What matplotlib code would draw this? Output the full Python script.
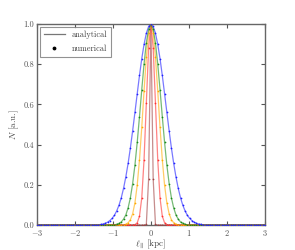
import numpy as np
import matplotlib
matplotlib.use('agg')
import matplotlib.pyplot as plt
from matplotlib.lines import Line2D

plt.rcParams['font.family'] = 'serif'
plt.rcParams['font.serif'] = ['cmr10', 'DejaVu Serif']
plt.rcParams['mathtext.fontset'] = 'cm'
plt.rcParams['axes.formatter.use_mathtext'] = True
plt.rcParams['axes.unicode_minus'] = True

# sample grid of the numerical solution (kpc), step 0.06
step = 0.06
x_ticks = [-3, -2, -1, 0, 1, 2, 3]
y_ticks = [0.0, 0.2, 0.4, 0.6, 0.8, 1.0]

# half profiles, from l=0 outwards (symmetric)
blue_half = [1.00, 0.988, 0.954, 0.899, 0.828, 0.744, 0.653, 0.560, 0.469, 0.383,
             0.306, 0.239, 0.182, 0.135, 0.098, 0.070, 0.048, 0.033, 0.022, 0.014,
             0.009, 0.005, 0.003]
green_half = [1.00, 0.976, 0.906, 0.801, 0.674, 0.539, 0.411, 0.298, 0.206, 0.135,
              0.085, 0.050, 0.029, 0.015, 0.008, 0.004]
orange_half = [1.00, 0.956, 0.835, 0.667, 0.487, 0.325, 0.198, 0.110, 0.056, 0.026,
               0.011, 0.004]
red_half = [1.00, 0.882, 0.607, 0.325, 0.135, 0.044, 0.011, 0.002]
brown_half = [1.00, 0.23, 0.003]

# narrowest drawn first so the broad blue one ends up on top
series = [(brown_half, '#a04040'), (red_half, '#ff3030'), (orange_half, '#ffaa00'),
          (green_half, '#1a8c1a'), (blue_half, '#2020ff')]

nhalf = 50
x = np.arange(-nhalf, nhalf + 1) * step


def full_profile(half):
    y = np.zeros(2 * nhalf + 1)
    h = np.array(half)
    y[nhalf:nhalf + len(h)] = h
    y[nhalf - len(h) + 1:nhalf + 1] = h[::-1]
    return y


fig = plt.figure(figsize=(2.95, 2.5), dpi=100)
ax = fig.add_axes([0.125, 0.1, 0.773, 0.804])

for half, col in series:
    y = full_profile(half)
    ax.plot(x, y, '-', color=col, lw=0.9, alpha=0.6, zorder=2)
    ax.plot(x, y, '.', color=col, ms=2.5, mew=0, zorder=3)

ax.set_xlim(-3, 3)
ax.set_ylim(0, 1)
ax.set_xticks(x_ticks)
ax.set_yticks(y_ticks)
ax.set_yticklabels([f'{v:.1f}' for v in y_ticks])
ax.tick_params(direction='in', top=True, right=True, length=3, width=0.8,
               labelsize=6, colors='#555555', pad=2)
for sp in ax.spines.values():
    sp.set_color('#666666')
    sp.set_linewidth(1.0)

ax.set_xlabel(r'$\ell_\parallel\,$[kpc]', fontsize=6.5, color='#444444', labelpad=0)
ax.set_ylabel(r'$N$ [a.u.]', fontsize=6.5, color='#444444', labelpad=2)

handles = [Line2D([], [], color='#777777', lw=0.9),
           Line2D([], [], color='k', marker='.', ls='', ms=3.5)]
leg = ax.legend(handles, ['analytical', 'numerical'], loc='upper left', fontsize=6,
                fancybox=False, edgecolor='#777777', borderaxespad=0.4,
                handlelength=2.6, labelspacing=0.7)
leg.get_frame().set_linewidth(0.8)
for t in leg.get_texts():
    t.set_color('#444444')

fig.savefig('out.png', dpi=100, facecolor='white')
